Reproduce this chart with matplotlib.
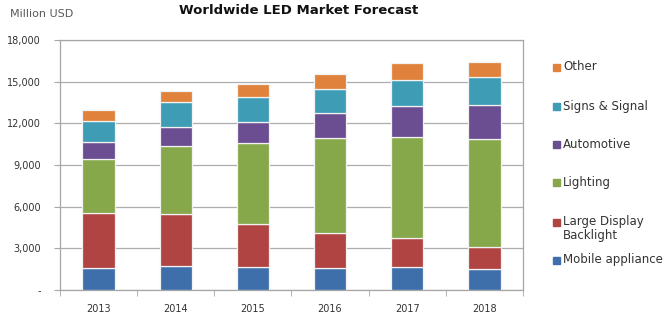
import numpy as np
import matplotlib
matplotlib.use("Agg")
import matplotlib.pyplot as plt
from matplotlib.patches import Rectangle

years = ["2013", "2014", "2015", "2016", "2017", "2018"]

# segments from the bottom of each bar upwards, million USD
mobile = [1550, 1750, 1630, 1560, 1630, 1490]
backlight = [4000, 3700, 3120, 2520, 2090, 1580]
lighting = [3880, 4940, 5810, 6890, 7320, 7780]
automotive = [1220, 1370, 1560, 1800, 2210, 2450]
signs = [1520, 1750, 1750, 1730, 1870, 2010]
other = [800, 840, 960, 1050, 1200, 1150]

series = [
    ("Mobile appliance", mobile, "#3F6FAA"),
    ("Large Display\nBacklight", backlight, "#B04442"),
    ("Lighting", lighting, "#87A84A"),
    ("Automotive", automotive, "#6B4E92"),
    ("Signs & Signal", signs, "#3E9DB5"),
    ("Other", other, "#E0823C"),
]

yticks = [0, 3000, 6000, 9000, 12000, 15000, 18000]
ytick_labels = ["-", "3,000", "6,000", "9,000", "12,000", "15,000", "18,000"]

fig = plt.figure(figsize=(6.67, 3.21), dpi=100)
ax = fig.add_axes([0.09, 0.0966, 0.694, 0.7784])

x = np.arange(len(years))
bottom = np.zeros(len(years))
for name, vals, col in series:
    ax.bar(x, vals, width=0.42, bottom=bottom, color=col,
           edgecolor="#F2F2F2", linewidth=0.9, zorder=3)
    bottom += np.array(vals)

ax.set_xlim(-0.5, len(years) - 0.5)
ax.set_ylim(0, 18000)
ax.set_yticks(yticks)
ax.set_yticklabels(ytick_labels, fontsize=7, color="#333333")
ax.set_xticks(x)
ax.set_xticklabels(years, fontsize=7, color="#333333")
ax.tick_params(axis="x", length=0, pad=10)
ax.tick_params(axis="y", length=4, color="#A6A6A6", pad=10)
ax.set_xticks(np.arange(-0.5, len(years)), minor=True)
ax.tick_params(axis="x", which="minor", length=4, color="#A6A6A6",
               direction="out")

ax.grid(axis="y", color="#ADADAD", linewidth=0.9, zorder=0)
for side in ["top", "right", "left", "bottom"]:
    ax.spines[side].set_color("#A6A6A6")
    ax.spines[side].set_linewidth(0.9)

fig.text(0.447, 0.968, "Worldwide LED Market Forecast", ha="center",
         va="center", fontsize=9.5, fontweight="bold", color="#111111")
fig.text(0.015, 0.955, "Million USD", ha="left", va="center", fontsize=8,
         color="#595959")

# legend drawn by hand, top entry first
legend_y = {"Other": 67, "Signs & Signal": 106, "Automotive": 144,
            "Lighting": 183, "Large Display\nBacklight": 222,
            "Mobile appliance": 260}
for name, vals, col in series:
    ypx = legend_y[name]
    yf = 1 - ypx / 321
    fig.add_artist(Rectangle((553 / 667, yf - 3.5 / 321), 7 / 667, 7 / 321,
                             transform=fig.transFigure, color=col))
    fig.text(563 / 667, yf + 6.5 / 321, name, ha="left", va="top",
             fontsize=8.5, color="#333333", linespacing=1.1)

fig.savefig("out.png", dpi=100)
